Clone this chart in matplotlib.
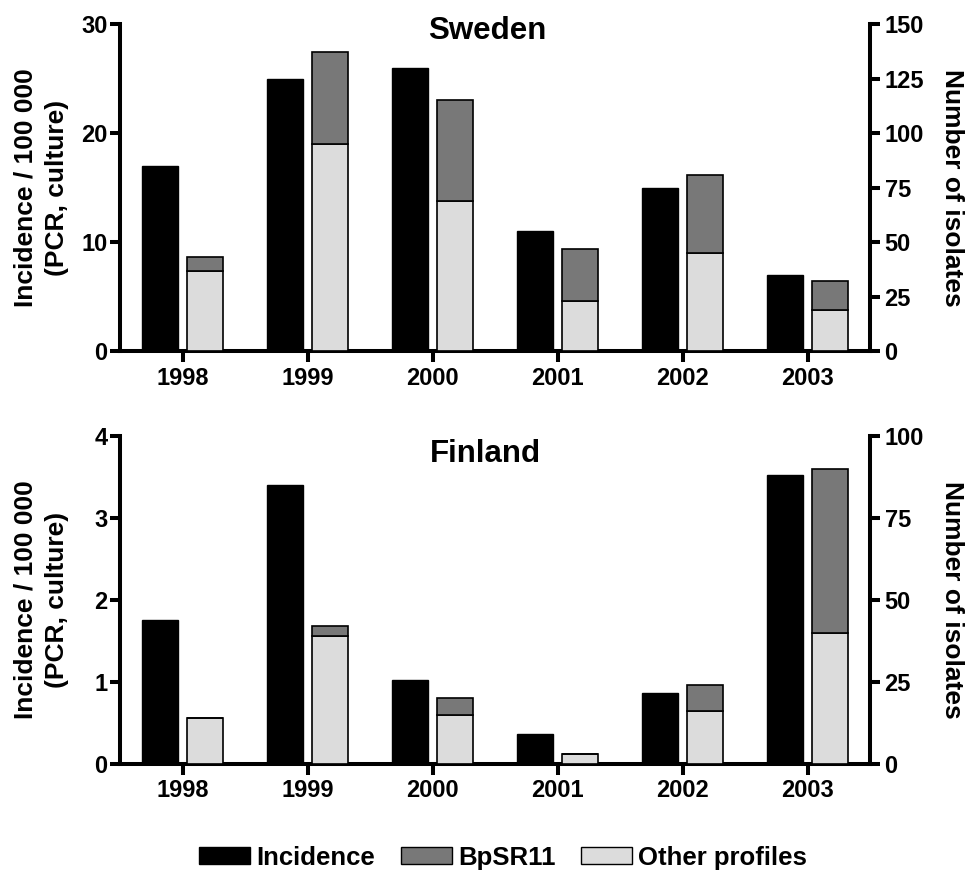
"""Pertussis incidence and isolate profiles per year, Sweden and Finland."""
import matplotlib

matplotlib.use("Agg")
import matplotlib.pyplot as plt
import numpy as np
from matplotlib.patches import Patch

YEARS = ["1998", "1999", "2000", "2001", "2002", "2003"]

SWEDEN_INCIDENCE = [17, 25, 26, 11, 15, 7]
SWEDEN_BPSR11 = [6, 42, 46, 24, 36, 13]
SWEDEN_OTHER = [37, 95, 69, 23, 45, 19]

FINLAND_INCIDENCE = [1.75, 3.4, 1.02, 0.37, 0.87, 3.52]
FINLAND_BPSR11 = [0, 3, 5, 0, 8, 50]
FINLAND_OTHER = [14, 39, 15, 3, 16, 40]

LEGEND_LABELS = ["Incidence", "BpSR11", "Other profiles"]
COLORS = ["#000000", "#787878", "#dcdcdc"]

W, H = 969, 872
SPINE_LW = 2.9

plt.rcParams["font.family"] = ["Liberation Sans", "DejaVu Sans"]
plt.rcParams["font.weight"] = "bold"


def _style(ax, twin, inc_ticks, iso_ticks):
    for name in ("top", "right"):
        ax.spines[name].set_visible(False)
    for name in ("top", "left", "bottom"):
        twin.spines[name].set_visible(False)
    ax.spines["left"].set_linewidth(SPINE_LW)
    ax.spines["bottom"].set_linewidth(SPINE_LW)
    twin.spines["right"].set_linewidth(SPINE_LW)
    twin.patch.set_visible(False)

    ax.set_xlim(-0.5, 5.5)
    ax.set_ylim(inc_ticks[0], inc_ticks[-1])
    twin.set_ylim(iso_ticks[0], iso_ticks[-1])
    ax.set_yticks(inc_ticks)
    twin.set_yticks(iso_ticks)
    ax.set_xticks(np.arange(len(YEARS)), YEARS)

    ax.tick_params(axis="y", length=7.5, width=SPINE_LW, pad=1.5, labelsize=17)
    ax.tick_params(axis="x", length=8, width=SPINE_LW, pad=3, labelsize=17)
    twin.tick_params(axis="y", length=7.5, width=SPINE_LW, pad=3, labelsize=17)


def _panel(fig, rect, incidence, bpsr11, other, inc_ticks, iso_ticks):
    ax = fig.add_axes(rect)
    twin = ax.twinx()
    x = np.arange(len(YEARS))
    width = 0.29
    ax.bar(x - 0.18, incidence, width, color=COLORS[0], edgecolor="black", linewidth=1)
    twin.bar(x + 0.18, other, width, color=COLORS[2], edgecolor="black", linewidth=1.2)
    twin.bar(x + 0.18, bpsr11, width, bottom=other, color=COLORS[1], edgecolor="black",
             linewidth=1.2)
    _style(ax, twin, inc_ticks, iso_ticks)

    # axis titles placed in figure pixels so both panels line up
    y_mid = rect[1] + rect[3] / 2
    fig.text(41 / W, y_mid, "Incidence / 100 000\n(PCR, culture)", rotation=90,
             ha="center", va="center", multialignment="center", fontsize=19,
             fontweight="bold", linespacing=1.4)
    fig.text(952 / W, y_mid, "Number of isolates", rotation=-90, ha="center",
             va="center", fontsize=19, fontweight="bold")
    return ax, twin


fig = plt.figure(figsize=(W / 100, H / 100), dpi=100)

left, right = 120 / W, 870 / W
top_rect = [left, 1 - 351.3 / H, right - left, (351.3 - 24) / H]
bot_rect = [left, 1 - 764 / H, right - left, (764 - 435.7) / H]

_panel(fig, top_rect, SWEDEN_INCIDENCE, SWEDEN_BPSR11, SWEDEN_OTHER,
       [0, 10, 20, 30], [0, 25, 50, 75, 100, 125, 150])
_panel(fig, bot_rect, FINLAND_INCIDENCE, FINLAND_BPSR11, FINLAND_OTHER,
       [0, 1, 2, 3, 4], [0, 25, 50, 75, 100])

fig.text(487 / W, 1 - 39 / H, "Sweden", ha="center", va="baseline", fontsize=22.5,
         fontweight="bold")
fig.text(485 / W, 1 - 461.7 / H, "Finland", ha="center", va="baseline", fontsize=22.5,
         fontweight="bold")

handles = [Patch(facecolor=c, edgecolor="black", linewidth=1) for c in COLORS]
fig.legend(handles, LEGEND_LABELS, loc="center", bbox_to_anchor=(503 / W, 1 - 858 / H),
           ncol=3, frameon=False, fontsize=18.5, handlelength=2.0, handleheight=0.64,
           handletextpad=0.23, columnspacing=1.0, borderpad=0)

fig.savefig("out.png", dpi=100)
